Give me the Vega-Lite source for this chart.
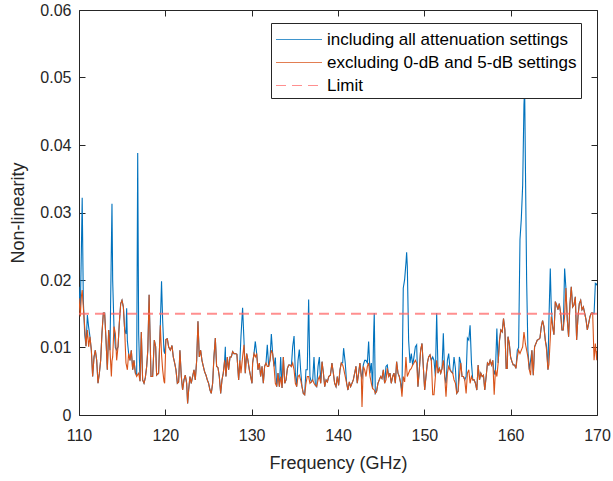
{
  "$schema": "https://vega.github.io/schema/vega-lite/v6.json",
  "width": 518,
  "height": 405,
  "autosize": {"type": "none"},
  "padding": {"left": 79, "top": 10, "right": 16, "bottom": 66},
  "background": "white",
  "config": {
    "font": "Liberation Sans",
    "view": {"stroke": null},
    "axis": {
      "grid": false,
      "domainColor": "#262626",
      "tickColor": "#262626",
      "labelColor": "#262626",
      "titleColor": "#262626",
      "labelFontSize": 16,
      "titleFontSize": 18,
      "titleFontWeight": "normal",
      "tickSize": -6,
      "labelFlush": false
    }
  },
  "layer": [
    {
      "data": {"values": [
        {"f":110.0,"a":0.0190,"b":0.0173},{"f":110.15,"a":0.0155,"b":0.0146},{"f":110.27,"a":0.024,"b":0.0175},{"f":110.37,"a":0.0322,"b":0.0185},
        {"f":110.5,"a":0.017,"b":0.016},{"f":110.66,"a":0.012,"b":0.013},{"f":110.81,"a":0.0102,"b":0.0102},{"f":110.97,"a":0.0148,"b":0.0126},
        {"f":111.12,"a":0.013,"b":0.0101},{"f":111.27,"a":0.0116,"b":0.0116},{"f":111.43,"a":0.0096,"b":0.0096},{"f":111.58,"a":0.0057,"b":0.0057},
        {"f":111.74,"a":0.0086,"b":0.0086},{"f":111.89,"a":0.0096,"b":0.0096},{"f":112.05,"a":0.0081,"b":0.0081},{"f":112.2,"a":0.0047,"b":0.0047},
        {"f":112.36,"a":0.0062,"b":0.0062},{"f":112.51,"a":0.0081,"b":0.0081},{"f":112.66,"a":0.0121,"b":0.0121},{"f":112.82,"a":0.0151,"b":0.0151},
        {"f":112.97,"a":0.0151,"b":0.0151},{"f":113.13,"a":0.0111,"b":0.0111},{"f":113.28,"a":0.0067,"b":0.0067},{"f":113.44,"a":0.0126,"b":0.0126},
        {"f":113.59,"a":0.0096,"b":0.0096},{"f":113.75,"a":0.025,"b":0.0057},{"f":113.82,"a":0.0313,"b":0.008},{"f":113.9,"a":0.020,"b":0.0086},
        {"f":114.05,"a":0.0131,"b":0.0131},{"f":114.21,"a":0.010,"b":0.0121},{"f":114.36,"a":0.0096,"b":0.0081},{"f":114.52,"a":0.0101,"b":0.0101},
        {"f":114.67,"a":0.0136,"b":0.0136},{"f":114.83,"a":0.0165,"b":0.0165},{"f":114.98,"a":0.017,"b":0.017},{"f":115.14,"a":0.016,"b":0.016},
        {"f":115.29,"a":0.0126,"b":0.0126},{"f":115.44,"a":0.012,"b":0.0077},{"f":115.52,"a":0.0158,"b":0.0072},{"f":115.6,"a":0.011,"b":0.0067},
        {"f":115.75,"a":0.0091,"b":0.0091},{"f":115.91,"a":0.0081,"b":0.0081},{"f":116.06,"a":0.0096,"b":0.0096},{"f":116.22,"a":0.0067,"b":0.0067},
        {"f":116.37,"a":0.0081,"b":0.0081},{"f":116.53,"a":0.0062,"b":0.0062},{"f":116.68,"a":0.006,"b":0.0057},{"f":116.8,"a":0.0388,"b":0.006},
        {"f":116.91,"a":0.012,"b":0.0062},{"f":117.07,"a":0.005,"b":0.005},{"f":117.22,"a":0.0123,"b":0.0123},{"f":117.37,"a":0.0052,"b":0.0052},
        {"f":117.53,"a":0.0047,"b":0.0047},{"f":117.68,"a":0.0055,"b":0.0055},{"f":117.84,"a":0.0072,"b":0.0072},{"f":117.97,"a":0.0096,"b":0.0096},
        {"f":118.12,"a":0.0178,"b":0.0178},{"f":118.34,"a":0.0057,"b":0.0057},{"f":118.53,"a":0.0057,"b":0.0057},{"f":118.72,"a":0.0111,"b":0.0111},
        {"f":118.88,"a":0.0101,"b":0.0101},{"f":118.99,"a":0.0059,"b":0.0059},{"f":119.22,"a":0.0062,"b":0.0062},{"f":119.42,"a":0.0133,"b":0.0133},
        {"f":119.56,"a":0.0198,"b":0.009},{"f":119.69,"a":0.014,"b":0.0067},{"f":119.84,"a":0.0095,"b":0.005},{"f":119.92,"a":0.0091,"b":0.0047},
        {"f":120.07,"a":0.0112,"b":0.0112},{"f":120.23,"a":0.0113,"b":0.0113},{"f":120.38,"a":0.0101,"b":0.0101},{"f":120.58,"a":0.0096,"b":0.0096},
        {"f":120.77,"a":0.0103,"b":0.0103},{"f":120.92,"a":0.0086,"b":0.0086},{"f":121.08,"a":0.0077,"b":0.0077},{"f":121.23,"a":0.0067,"b":0.0067},
        {"f":121.39,"a":0.0047,"b":0.0047},{"f":121.54,"a":0.0049,"b":0.0049},{"f":121.69,"a":0.0096,"b":0.0096},{"f":121.85,"a":0.0057,"b":0.0057},
        {"f":122.0,"a":0.0037,"b":0.0037},{"f":122.16,"a":0.0052,"b":0.0052},{"f":122.31,"a":0.0059,"b":0.0059},{"f":122.47,"a":0.0047,"b":0.0047},
        {"f":122.58,"a":0.0017,"b":0.0017},{"f":122.7,"a":0.0037,"b":0.0037},{"f":122.85,"a":0.0057,"b":0.0057},{"f":123.0,"a":0.0047,"b":0.0047},
        {"f":123.16,"a":0.0057,"b":0.0057},{"f":123.32,"a":0.0067,"b":0.0067},{"f":123.47,"a":0.0052,"b":0.0052},{"f":123.63,"a":0.0081,"b":0.0081},
        {"f":123.78,"a":0.0139,"b":0.0139},{"f":123.93,"a":0.0086,"b":0.0086},{"f":124.09,"a":0.0096,"b":0.0096},{"f":124.24,"a":0.0081,"b":0.0081},
        {"f":124.4,"a":0.0072,"b":0.0072},{"f":124.55,"a":0.0064,"b":0.0064},{"f":124.71,"a":0.0059,"b":0.0059},{"f":124.86,"a":0.0052,"b":0.0052},
        {"f":125.01,"a":0.0047,"b":0.0047},{"f":125.17,"a":0.0037,"b":0.0037},{"f":125.32,"a":0.0032,"b":0.0032},{"f":125.48,"a":0.0047,"b":0.0047},
        {"f":125.63,"a":0.0086,"b":0.0086},{"f":125.79,"a":0.0114,"b":0.0114},{"f":125.94,"a":0.0072,"b":0.0072},{"f":126.1,"a":0.007,"b":0.007},
        {"f":126.25,"a":0.0057,"b":0.0057},{"f":126.41,"a":0.0032,"b":0.0032},{"f":126.56,"a":0.0052,"b":0.0052},{"f":126.71,"a":0.0062,"b":0.0062},
        {"f":126.87,"a":0.0081,"b":0.0081},{"f":126.95,"a":0.0101,"b":0.007},{"f":127.02,"a":0.0057,"b":0.0057},{"f":127.18,"a":0.0086,"b":0.0086},
        {"f":127.33,"a":0.0067,"b":0.0067},{"f":127.49,"a":0.0086,"b":0.0086},{"f":127.64,"a":0.0086,"b":0.0086},{"f":127.8,"a":0.0094,"b":0.0094},
        {"f":127.95,"a":0.0091,"b":0.0091},{"f":128.11,"a":0.0091,"b":0.0091},{"f":128.29,"a":0.009,"b":0.009},{"f":128.49,"a":0.0052,"b":0.0052},
        {"f":128.64,"a":0.0081,"b":0.0081},{"f":128.76,"a":0.0116,"b":0.0062},{"f":128.95,"a":0.0159,"b":0.0086},{"f":129.11,"a":0.011,"b":0.0104},
        {"f":129.26,"a":0.0062,"b":0.0062},{"f":129.42,"a":0.0091,"b":0.0091},{"f":129.57,"a":0.0081,"b":0.0081},{"f":129.73,"a":0.0067,"b":0.0067},
        {"f":129.88,"a":0.0057,"b":0.0057},{"f":130.04,"a":0.0047,"b":0.0047},{"f":130.11,"a":0.0077,"b":0.0077},{"f":130.27,"a":0.0091,"b":0.0091},
        {"f":130.42,"a":0.0109,"b":0.0086},{"f":130.58,"a":0.0091,"b":0.0091},{"f":130.73,"a":0.0067,"b":0.0067},{"f":130.89,"a":0.0077,"b":0.0077},
        {"f":131.04,"a":0.0057,"b":0.0057},{"f":131.2,"a":0.0072,"b":0.0072},{"f":131.35,"a":0.0047,"b":0.0047},{"f":131.5,"a":0.0072,"b":0.0072},
        {"f":131.66,"a":0.0077,"b":0.0077},{"f":131.81,"a":0.0104,"b":0.0072},{"f":131.97,"a":0.0072,"b":0.0072},{"f":132.12,"a":0.0081,"b":0.0081},
        {"f":132.28,"a":0.012,"b":0.0096},{"f":132.43,"a":0.0091,"b":0.0091},{"f":132.59,"a":0.0072,"b":0.0072},{"f":132.74,"a":0.0085,"b":0.0047},
        {"f":132.9,"a":0.0042,"b":0.0042},{"f":133.05,"a":0.0062,"b":0.0062},{"f":133.21,"a":0.0042,"b":0.0042},{"f":133.36,"a":0.0086,"b":0.0057},
        {"f":133.52,"a":0.004,"b":0.004},{"f":133.67,"a":0.0086,"b":0.0086},{"f":133.83,"a":0.0047,"b":0.0047},{"f":133.98,"a":0.0052,"b":0.0052},
        {"f":134.14,"a":0.0069,"b":0.0069},{"f":134.29,"a":0.0074,"b":0.0074},{"f":134.44,"a":0.0074,"b":0.0074},{"f":134.6,"a":0.0072,"b":0.0072},
        {"f":134.75,"a":0.0101,"b":0.0077},{"f":134.91,"a":0.0117,"b":0.0067},{"f":135.06,"a":0.0062,"b":0.0047},{"f":135.21,"a":0.0042,"b":0.0042},
        {"f":135.37,"a":0.0081,"b":0.0057},{"f":135.52,"a":0.0097,"b":0.0059},{"f":135.67,"a":0.0067,"b":0.0052},{"f":135.83,"a":0.0042,"b":0.0042},
        {"f":135.98,"a":0.0032,"b":0.0032},{"f":136.14,"a":0.003,"b":0.003},{"f":136.29,"a":0.0067,"b":0.0047},{"f":136.44,"a":0.0067,"b":0.0057},
        {"f":136.6,"a":0.0171,"b":0.0057},{"f":136.75,"a":0.0057,"b":0.0047},{"f":136.91,"a":0.0049,"b":0.0049},{"f":137.07,"a":0.0052,"b":0.0052},
        {"f":137.22,"a":0.0086,"b":0.0047},{"f":137.38,"a":0.0044,"b":0.0044},{"f":137.53,"a":0.0042,"b":0.0042},{"f":137.69,"a":0.0072,"b":0.0052},
        {"f":137.84,"a":0.0086,"b":0.0057},{"f":138.0,"a":0.0047,"b":0.0047},{"f":138.15,"a":0.0079,"b":0.0079},{"f":138.31,"a":0.0062,"b":0.0062},
        {"f":138.46,"a":0.0042,"b":0.0042},{"f":138.62,"a":0.0052,"b":0.0052},{"f":138.77,"a":0.0049,"b":0.0049},{"f":138.93,"a":0.0057,"b":0.0057},
        {"f":139.12,"a":0.0059,"b":0.0059},{"f":139.3,"a":0.0077,"b":0.0077},{"f":139.46,"a":0.0062,"b":0.0062},{"f":139.61,"a":0.0047,"b":0.0047},
        {"f":139.77,"a":0.0042,"b":0.0042},{"f":139.92,"a":0.0057,"b":0.0057},{"f":140.07,"a":0.0044,"b":0.0044},{"f":140.23,"a":0.0067,"b":0.0067},
        {"f":140.38,"a":0.0077,"b":0.0077},{"f":140.54,"a":0.0077,"b":0.0074},{"f":140.65,"a":0.0099,"b":0.0069},{"f":140.84,"a":0.0077,"b":0.0057},
        {"f":141.0,"a":0.0047,"b":0.0047},{"f":141.15,"a":0.0037,"b":0.0037},{"f":141.31,"a":0.0049,"b":0.0049},{"f":141.46,"a":0.0042,"b":0.0042},
        {"f":141.62,"a":0.0047,"b":0.0047},{"f":141.77,"a":0.0052,"b":0.0052},{"f":141.93,"a":0.0062,"b":0.0062},{"f":142.08,"a":0.0072,"b":0.0072},
        {"f":142.23,"a":0.0047,"b":0.0047},{"f":142.39,"a":0.0062,"b":0.0062},{"f":142.54,"a":0.0077,"b":0.0077},{"f":142.7,"a":0.0057,"b":0.0057},
        {"f":142.78,"a":0.0055,"b":0.0012},{"f":142.93,"a":0.0074,"b":0.0072},{"f":143.09,"a":0.0081,"b":0.0067},{"f":143.24,"a":0.0081,"b":0.0057},
        {"f":143.4,"a":0.0077,"b":0.0072},{"f":143.55,"a":0.0109,"b":0.0077},{"f":143.71,"a":0.0062,"b":0.0057},{"f":143.86,"a":0.0077,"b":0.0047},
        {"f":144.01,"a":0.0039,"b":0.0039},{"f":144.13,"a":0.012,"b":0.0038},{"f":144.2,"a":0.0151,"b":0.0037},{"f":144.32,"a":0.0032,"b":0.0032},
        {"f":144.47,"a":0.0035,"b":0.0035},{"f":144.63,"a":0.0047,"b":0.0047},{"f":144.78,"a":0.0052,"b":0.0052},{"f":144.94,"a":0.0057,"b":0.0057},
        {"f":145.09,"a":0.0054,"b":0.0054},{"f":145.25,"a":0.0067,"b":0.0067},{"f":145.4,"a":0.0047,"b":0.0047},{"f":145.56,"a":0.0072,"b":0.0052},
        {"f":145.71,"a":0.0074,"b":0.0069},{"f":145.87,"a":0.0057,"b":0.0057},{"f":146.02,"a":0.0062,"b":0.0062},{"f":146.17,"a":0.0047,"b":0.0047},
        {"f":146.33,"a":0.0057,"b":0.0057},{"f":146.48,"a":0.0062,"b":0.0062},{"f":146.64,"a":0.0047,"b":0.0047},{"f":146.79,"a":0.0079,"b":0.0079},
        {"f":146.95,"a":0.0062,"b":0.0062},{"f":147.1,"a":0.0057,"b":0.0057},{"f":147.26,"a":0.0047,"b":0.0047},{"f":147.41,"a":0.0035,"b":0.0027},
        {"f":147.56,"a":0.0188,"b":0.0057},{"f":147.72,"a":0.0201,"b":0.0049},{"f":147.87,"a":0.0225,"b":0.0086},{"f":147.95,"a":0.0241,"b":0.007},
        {"f":148.03,"a":0.022,"b":0.0057},{"f":148.18,"a":0.0111,"b":0.0062},{"f":148.34,"a":0.0077,"b":0.0067},{"f":148.49,"a":0.0091,"b":0.0069},
        {"f":148.65,"a":0.0074,"b":0.0074},{"f":148.8,"a":0.0086,"b":0.0077},{"f":148.96,"a":0.0101,"b":0.0081},{"f":149.11,"a":0.0104,"b":0.0077},
        {"f":149.26,"a":0.0042,"b":0.0042},{"f":149.42,"a":0.0067,"b":0.0067},{"f":149.57,"a":0.0096,"b":0.0096},{"f":149.73,"a":0.0106,"b":0.0106},
        {"f":149.88,"a":0.0072,"b":0.0072},{"f":150.04,"a":0.0037,"b":0.0037},{"f":150.19,"a":0.0057,"b":0.0057},{"f":150.35,"a":0.0077,"b":0.0077},
        {"f":150.5,"a":0.0086,"b":0.0086},{"f":150.66,"a":0.0089,"b":0.0089},{"f":150.81,"a":0.0081,"b":0.0081},{"f":150.97,"a":0.0086,"b":0.003},
        {"f":151.12,"a":0.0081,"b":0.003},{"f":151.28,"a":0.0057,"b":0.0057},{"f":151.43,"a":0.0151,"b":0.0081},{"f":151.59,"a":0.0062,"b":0.0062},
        {"f":151.74,"a":0.0069,"b":0.0069},{"f":151.9,"a":0.0062,"b":0.0062},{"f":152.05,"a":0.0069,"b":0.0069},{"f":152.2,"a":0.0121,"b":0.0081},
        {"f":152.36,"a":0.0057,"b":0.0057},{"f":152.51,"a":0.0047,"b":0.0027},{"f":152.67,"a":0.0081,"b":0.0062},{"f":152.82,"a":0.0091,"b":0.0072},
        {"f":152.98,"a":0.0067,"b":0.0067},{"f":153.13,"a":0.0064,"b":0.0064},{"f":153.29,"a":0.0062,"b":0.0062},{"f":153.44,"a":0.0086,"b":0.0052},
        {"f":153.6,"a":0.0069,"b":0.0047},{"f":153.75,"a":0.0032,"b":0.0032},{"f":153.91,"a":0.0035,"b":0.0035},{"f":154.06,"a":0.0086,"b":0.0057},
        {"f":154.22,"a":0.0077,"b":0.0077},{"f":154.37,"a":0.0057,"b":0.0057},{"f":154.53,"a":0.0057,"b":0.0057},{"f":154.68,"a":0.0052,"b":0.0052},
        {"f":154.84,"a":0.0057,"b":0.0032},{"f":154.99,"a":0.0114,"b":0.0062},{"f":155.15,"a":0.0111,"b":0.0067},{"f":155.3,"a":0.0133,"b":0.0047},
        {"f":155.46,"a":0.0077,"b":0.0057},{"f":155.61,"a":0.0052,"b":0.0052},{"f":155.77,"a":0.0052,"b":0.0052},{"f":155.92,"a":0.0047,"b":0.0047},
        {"f":156.08,"a":0.0037,"b":0.0037},{"f":156.23,"a":0.0074,"b":0.0074},{"f":156.39,"a":0.0052,"b":0.0052},{"f":156.54,"a":0.0062,"b":0.0062},
        {"f":156.7,"a":0.0057,"b":0.0057},{"f":156.85,"a":0.0059,"b":0.0059},{"f":157.0,"a":0.0037,"b":0.0037},{"f":157.16,"a":0.0057,"b":0.0057},
        {"f":157.31,"a":0.0077,"b":0.0077},{"f":157.47,"a":0.0074,"b":0.0074},{"f":157.62,"a":0.0081,"b":0.0081},{"f":157.78,"a":0.0074,"b":0.0074},
        {"f":157.93,"a":0.0081,"b":0.0081},{"f":158.09,"a":0.006,"b":0.003},{"f":158.24,"a":0.0067,"b":0.0067},{"f":158.4,"a":0.0128,"b":0.0057},
        {"f":158.55,"a":0.0077,"b":0.0077},{"f":158.71,"a":0.0111,"b":0.0111},{"f":158.86,"a":0.0126,"b":0.0126},{"f":159.02,"a":0.0123,"b":0.0123},
        {"f":159.17,"a":0.0143,"b":0.0143},{"f":159.33,"a":0.0126,"b":0.0126},{"f":159.48,"a":0.0069,"b":0.0069},{"f":159.6,"a":0.0069,"b":0.0069},
        {"f":159.69,"a":0.0116,"b":0.0116},{"f":159.84,"a":0.0106,"b":0.0106},{"f":159.99,"a":0.0086,"b":0.0086},{"f":160.15,"a":0.0079,"b":0.0079},
        {"f":160.3,"a":0.0074,"b":0.0074},{"f":160.46,"a":0.0074,"b":0.0074},{"f":160.61,"a":0.0069,"b":0.0069},{"f":160.77,"a":0.0096,"b":0.0086},
        {"f":160.92,"a":0.010,"b":0.0096},{"f":161.08,"a":0.026,"b":0.0091},{"f":161.23,"a":0.029,"b":0.0096},{"f":161.39,"a":0.034,"b":0.0101},
        {"f":161.54,"a":0.046,"b":0.0123},{"f":161.62,"a":0.0484,"b":0.0115},{"f":161.7,"a":0.038,"b":0.0106},{"f":161.85,"a":0.020,"b":0.0096},
        {"f":162.0,"a":0.0095,"b":0.0086},{"f":162.16,"a":0.0067,"b":0.0067},{"f":162.31,"a":0.0081,"b":0.0059},{"f":162.46,"a":0.0096,"b":0.0096},
        {"f":162.62,"a":0.0059,"b":0.0059},{"f":162.77,"a":0.0101,"b":0.0101},{"f":162.93,"a":0.0106,"b":0.0106},{"f":163.08,"a":0.0111,"b":0.0111},
        {"f":163.24,"a":0.0112,"b":0.0112},{"f":163.39,"a":0.0114,"b":0.0114},{"f":163.55,"a":0.0131,"b":0.0131},{"f":163.7,"a":0.014,"b":0.014},
        {"f":163.85,"a":0.0131,"b":0.0131},{"f":164.01,"a":0.0111,"b":0.0111},{"f":164.16,"a":0.0101,"b":0.0096},{"f":164.32,"a":0.0067,"b":0.0067},
        {"f":164.43,"a":0.014,"b":0.0075},{"f":164.59,"a":0.0217,"b":0.0114},{"f":164.7,"a":0.016,"b":0.0146},{"f":164.86,"a":0.0131,"b":0.0131},
        {"f":165.01,"a":0.0119,"b":0.0119},{"f":165.17,"a":0.0168,"b":0.0168},{"f":165.32,"a":0.0163,"b":0.0163},{"f":165.48,"a":0.0156,"b":0.0156},
        {"f":165.63,"a":0.0165,"b":0.0165},{"f":165.79,"a":0.0151,"b":0.0151},{"f":165.94,"a":0.0126,"b":0.0126},{"f":166.09,"a":0.0126,"b":0.0126},
        {"f":166.25,"a":0.0217,"b":0.0146},{"f":166.4,"a":0.0188,"b":0.0188},{"f":166.56,"a":0.0141,"b":0.0141},{"f":166.71,"a":0.0116,"b":0.0116},
        {"f":166.87,"a":0.0165,"b":0.0165},{"f":167.02,"a":0.019,"b":0.019},{"f":167.18,"a":0.016,"b":0.016},{"f":167.33,"a":0.0163,"b":0.0163},
        {"f":167.49,"a":0.0175,"b":0.0175},{"f":167.64,"a":0.0111,"b":0.0111},{"f":167.8,"a":0.0146,"b":0.0146},{"f":167.95,"a":0.0165,"b":0.0165},
        {"f":168.11,"a":0.017,"b":0.017},{"f":168.26,"a":0.0156,"b":0.0156},{"f":168.42,"a":0.016,"b":0.016},{"f":168.57,"a":0.0151,"b":0.0151},
        {"f":168.73,"a":0.0141,"b":0.0141},{"f":168.88,"a":0.0126,"b":0.0126},{"f":169.04,"a":0.0136,"b":0.0136},{"f":169.19,"a":0.0146,"b":0.0146},
        {"f":169.35,"a":0.0151,"b":0.0151},{"f":169.5,"a":0.0151,"b":0.0151},{"f":169.66,"a":0.015,"b":0.0081},{"f":169.81,"a":0.0195,"b":0.0106},
        {"f":169.97,"a":0.0193,"b":0.0081},{"f":170.0,"a":0.0195,"b":0.0095}
      ]},
      "transform": [{"fold": ["a", "b"], "as": ["s", "v"]}],
      "mark": {"type": "line", "strokeWidth": 1.1, "clip": true},
      "encoding": {
        "x": {"field": "f", "type": "quantitative",
              "scale": {"domain": [110, 170], "nice": false, "zero": false},
              "axis": {"title": "Frequency (GHz)", "values": [110,120,130,140,150,160,170], "format": "d", "labelPadding": 18, "titlePadding": 11}},
        "y": {"field": "v", "type": "quantitative",
              "scale": {"domain": [0, 0.06], "nice": false},
              "axis": {"title": "Non-linearity", "values": [0,0.01,0.02,0.03,0.04,0.05,0.06], "format": "~g", "labelPadding": 14, "titlePadding": 12}},
        "color": {"field": "s", "type": "nominal",
                  "scale": {"domain": ["a", "b", "c"], "range": ["#0072BD", "#D95319", "#ff6a6a"]},
                  "legend": {"orient": "none", "legendX": 192, "legendY": 13, "title": null,
                             "labelExpr": "datum.label == 'a' ? 'including all attenuation settings' : datum.label == 'b' ? 'excluding 0-dB and 5-dB settings' : 'Limit'",
                             "labelFontSize": 17, "labelColor": "#000000", "labelOffset": 27, "labelLimit": 0,
                             "symbolType": "M-1,0H3", "symbolSize": 529, "symbolStrokeWidth": 1.2,
                             "strokeColor": "#262626", "fillColor": "white", "padding": 4, "rowPadding": 2}},
        "strokeDash": {"field": "s", "type": "nominal",
                  "scale": {"domain": ["a", "b", "c"], "range": [[1, 0], [1, 0], [10, 6]]},
                  "legend": {"orient": "none", "legendX": 192, "legendY": 13, "title": null,
                             "labelExpr": "datum.label == 'a' ? 'including all attenuation settings' : datum.label == 'b' ? 'excluding 0-dB and 5-dB settings' : 'Limit'",
                             "labelFontSize": 17, "labelColor": "#000000", "labelOffset": 27, "labelLimit": 0,
                             "symbolType": "M-1,0H3", "symbolSize": 529, "symbolStrokeWidth": 1.2,
                             "strokeColor": "#262626", "fillColor": "white", "padding": 4, "rowPadding": 2}}
      }
    },
    {
      "data": {"values": [{"f": 110, "v": 0.015, "s": "c"}, {"f": 170, "v": 0.015, "s": "c"}]},
      "mark": {"type": "line", "strokeWidth": 1.8, "strokeDash": [12, 7], "opacity": 0.75},
      "encoding": {
        "x": {"field": "f", "type": "quantitative",
              "axis": {"orient": "top", "title": null, "labels": false, "values": [110,120,130,140,150,160,170]}},
        "y": {"field": "v", "type": "quantitative",
              "axis": {"orient": "right", "title": null, "labels": false, "values": [0,0.01,0.02,0.03,0.04,0.05,0.06]}},
        "color": {"field": "s", "type": "nominal"},
        "strokeDash": {"field": "s", "type": "nominal"}
      }
    }
  ],
  "resolve": {"axis": {"x": "independent", "y": "independent"}}
}
